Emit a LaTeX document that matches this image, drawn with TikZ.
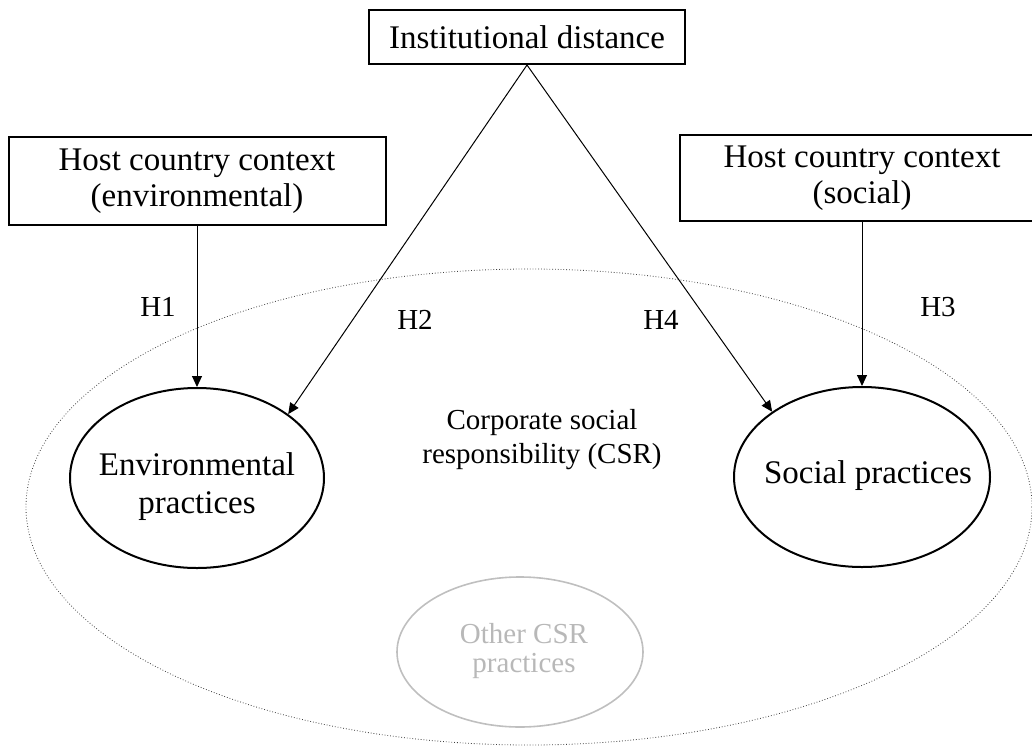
\documentclass[tikz,border=0pt]{standalone}
\usepackage{fontspec}
\setmainfont{Liberation Serif}
\usetikzlibrary{shapes.geometric,arrows.meta}
\begin{document}
\begin{tikzpicture}[x=0.5pt,y=-0.5pt,
  box/.style={draw,line width=1pt,align=center,inner sep=0pt,font=\fontsize{16.5}{18}\selectfont},
  oval/.style={draw,ellipse,line width=1pt,inner sep=0pt},
  lbl/.style={font=\fontsize{16.5}{19}\selectfont,align=center,inner sep=0pt},
  hyp/.style={font=\fontsize{14.5}{16}\selectfont,inner sep=0pt},
  arr/.style={-{Triangle[length=5.5pt,width=5pt]},line width=0.5pt}]
\useasboundingbox (0,0) rectangle (1032,749);
% background CSR ellipse
\node[ellipse,draw=black!75,densely dotted,line width=0.4pt,minimum width=503pt,minimum height=238pt,inner sep=0pt] (csr) at (529,507) {};
\node[font=\fontsize{14.5}{17}\selectfont,align=center,inner sep=0pt] (csrtxt) at (542,440) {Corporate social\\responsibility (CSR)};
% other CSR practices
\node[ellipse,draw=black!25,line width=0.8pt,minimum width=123pt,minimum height=75pt,inner sep=0pt] (other) at (520,652) {};
\node[font=\fontsize{14.5}{14.5}\selectfont,align=center,text=black!28,inner sep=0pt] (othertxt) at (524,651) {Other CSR\\practices};
% boxes
\node[box,minimum width=158pt,minimum height=27pt] (inst) at (527,37) {Institutional distance};
\node[box,minimum width=188.5pt,minimum height=44pt] (envbox) at (197,181) {Host country context\\(environmental)};
\node[box,minimum width=182pt,minimum height=43pt] (socbox) at (862,178) {Host country context\\(social)};
% practice ellipses
\node[oval,minimum width=127pt,minimum height=90pt] (env) at (197,478) {};
\node[lbl] (envtxt) at (197,487) {Environmental\\practices};
\node[oval,minimum width=128pt,minimum height=90pt] (soc) at (862,477) {};
\node[lbl] (soctxt) at (868,476) {Social practices};
% arrows
\draw[arr] (envbox.south) -- (env.north);
\draw[arr] (socbox.south) -- (soc.north);
\draw[arr] (inst.south) -- (env.35.5);
\draw[arr] (inst.south) -- (soc.144.6);
% hypothesis labels
\node[hyp] (h1) at (158,307) {H1};
\node[hyp] (h2) at (415,320) {H2};
\node[hyp] (h4) at (661,320) {H4};
\node[hyp] (h3) at (938,307) {H3};
\end{tikzpicture}
\end{document}
